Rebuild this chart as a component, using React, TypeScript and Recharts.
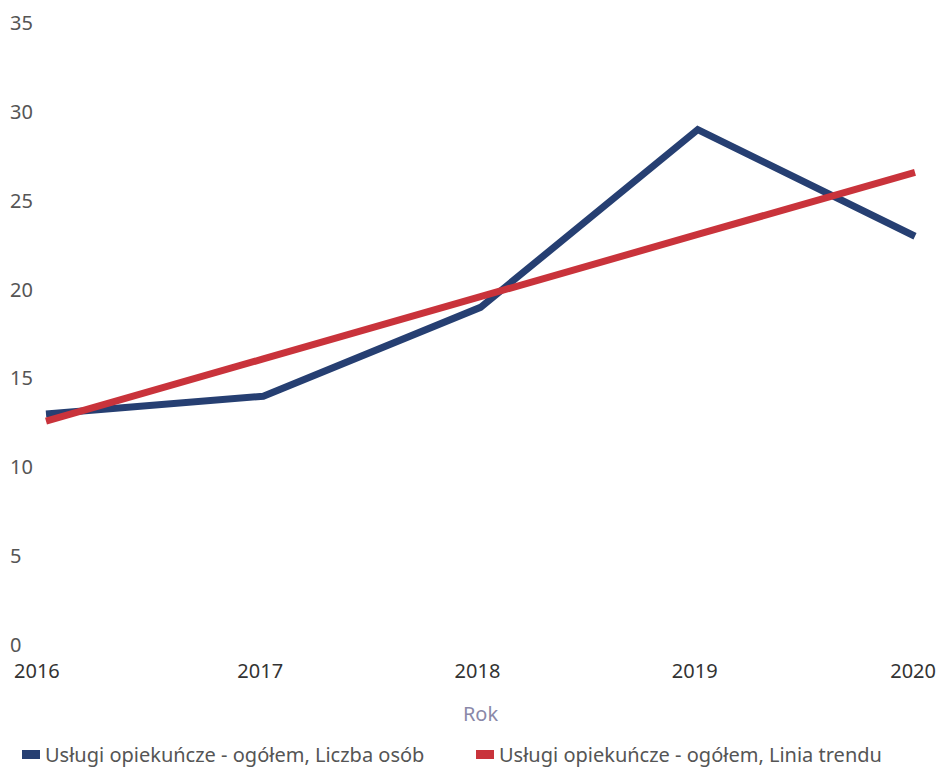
import React from 'react';
import { LineChart, Line, XAxis, YAxis, Legend, Label } from 'recharts';

const YEARS = ['2016', '2017', '2018', '2019', '2020'];
const LICZBA_OSOB = [13, 14, 19, 29, 23];
const LINIA_TRENDU = [12.6, 16.1, 19.6, 23.1, 26.6];
const Y_TICKS = [0, 5, 10, 15, 20, 25, 30, 35];

const SERIES = [
    { key: 'liczba', name: 'Usługi opiekuńcze - ogółem, Liczba osób', color: '#263f72' },
    { key: 'trend', name: 'Usługi opiekuńcze - ogółem, Linia trendu', color: '#c9333b' },
];

const FONT = '"Noto Sans", "Open Sans", sans-serif';

const chartData = YEARS.map((year, i) => ({
    year,
    liczba: LICZBA_OSOB[i],
    trend: LINIA_TRENDU[i],
}));

function YTick(props: any) {
    const { y, payload } = props;
    return (
        <text x={10} y={y} dy={7} textAnchor="start" fill="#555" fontSize={20} fontFamily={FONT}>
            {payload.value}
        </text>
    );
}

function XTick(props: any) {
    const { x, y, payload, index } = props;
    let anchor = 'middle';
    let tx = x - 3;
    if (index === 0) {
        anchor = 'start';
        tx = 14;
    } else if (index === YEARS.length - 1) {
        anchor = 'end';
        tx = 936;
    }
    return (
        <text x={tx} y={y + 25} textAnchor={anchor} fill="#333" fontSize={20} fontFamily={FONT}>
            {payload.value}
        </text>
    );
}

function LegendContent() {
    const positions = [22, 476];
    return (
        <div style={{ position: 'relative', height: 24 }}>
            {SERIES.map((s, i) => (
                <div
                    key={s.key}
                    style={{
                        position: 'absolute',
                        left: positions[i],
                        top: 0,
                        display: 'flex',
                        alignItems: 'center',
                        fontFamily: FONT,
                        fontSize: 20,
                        color: '#555',
                        whiteSpace: 'nowrap',
                    }}
                >
                    <span style={{ display: 'inline-block', width: 18, height: 9, background: s.color, marginRight: 5 }} />
                    {s.name}
                </div>
            ))}
        </div>
    );
}

export default function App() {
    return (
        <div style={{ position: 'absolute', left: 0, top: 0, width: 937, height: 768, background: '#fff' }}>
            <LineChart
                width={937}
                height={768}
                data={chartData}
                margin={{ top: 23, right: 22, bottom: 59, left: 0 }}
            >
                <XAxis
                    dataKey="year"
                    axisLine={false}
                    tickLine={false}
                    height={40}
                    interval={0}
                    tick={<XTick />}
                >
                    <Label
                        value="Rok"
                        position="bottom"
                        offset={22}
                        fill="#8a88a8"
                        fontSize={20}
                        fontFamily={FONT}
                    />
                </XAxis>
                <YAxis
                    domain={[0, 35]}
                    ticks={Y_TICKS}
                    axisLine={false}
                    tickLine={false}
                    width={46}
                    tick={<YTick />}
                />
                {SERIES.map((s) => (
                    <Line
                        key={s.key}
                        dataKey={s.key}
                        name={s.name}
                        stroke={s.color}
                        strokeWidth={7}
                        dot={false}
                        activeDot={false}
                        isAnimationActive={false}
                    />
                ))}
                <Legend
                    content={<LegendContent />}
                    wrapperStyle={{ position: 'absolute', left: 0, top: 741, width: 937 }}
                />
            </LineChart>
        </div>
    );
}
